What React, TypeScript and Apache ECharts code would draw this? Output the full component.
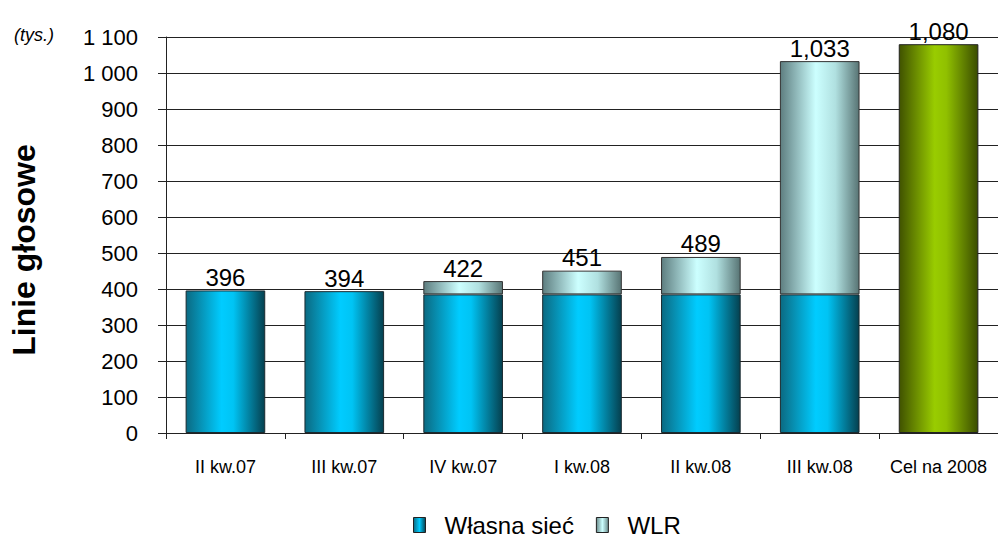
import React, { useEffect, useRef } from "react";
import * as echarts from "echarts";

const categories = ["II kw.07", "III kw.07", "IV kw.07", "I kw.08", "II kw.08", "III kw.08", "Cel na 2008"];
const ownNetwork: (number | string)[] = [396, 394, 385, 385, 385, 385, "-"];
const wlr: (number | string)[] = ["-", "-", 37, 66, 104, 648, "-"];
const target: (number | string)[] = ["-", "-", "-", "-", "-", "-", 1080];
const totals = [396, 394, 422, 451, 489, 1033, 1080];
const yTicks = { min: 0, max: 1100, interval: 100 };

const FONT = "Liberation Sans, Arial, sans-serif";

const grad = (stops: [number, string][]) =>
  new echarts.graphic.LinearGradient(0, 0, 1, 0, stops.map(([offset, color]) => ({ offset, color })));

export default function App() {
  const ref = useRef<HTMLDivElement>(null);
  useEffect(() => {
    document.body.style.margin = "0";
    const chart = echarts.init(ref.current!, null, { renderer: "svg" });
    const fmtTotal = (p: any) => totals[p.dataIndex].toLocaleString("en-US");
    const label = { show: true, position: "top", distance: 1, color: "#000", fontSize: 24, fontFamily: FONT, formatter: fmtTotal };
    chart.setOption({
      animation: false,
      backgroundColor: "#fff",
      grid: { left: 166, right: 0, top: 37, bottom: 108, containLabel: false },
      legend: {
        top: 513,
        left: 413,
        padding: 0,
        itemWidth: 12,
        itemHeight: 15,
        itemGap: 22,
        icon: "rect",
        textStyle: { fontSize: 24, fontFamily: FONT, color: "#000", padding: [0, 0, 0, 14] },
        data: [
          { name: "Własna sieć", itemStyle: { color: grad([[0, "#0b6a82"], [0.5, "#00ccff"], [1, "#05404f"]]), borderColor: "#222", borderWidth: 1 } },
          { name: "WLR", itemStyle: { color: grad([[0, "#6a8a8a"], [0.5, "#ccffff"], [1, "#6a8a8a"]]), borderColor: "#222", borderWidth: 1 } },
        ],
      },
      xAxis: {
        type: "category",
        data: categories,
        axisLine: { lineStyle: { color: "#222", width: 1 } },
        axisTick: { show: true, length: 6, lineStyle: { color: "#222" } },
        axisLabel: { interval: 0, margin: 25, fontSize: 18, fontFamily: FONT, color: "#000" },
      },
      yAxis: {
        type: "value",
        min: yTicks.min,
        max: yTicks.max,
        interval: yTicks.interval,
        axisLine: { show: true, lineStyle: { color: "#222", width: 1 } },
        axisTick: { show: true, length: 8, lineStyle: { color: "#222" } },
        splitLine: { lineStyle: { color: "#222", width: 1 } },
        axisLabel: {
          margin: 28,
          fontSize: 22,
          fontFamily: FONT,
          color: "#000",
          formatter: (v: number) => String(v).replace(/\B(?=(\d{3})+(?!\d))/g, " "),
        },
      },
      series: [
        {
          name: "Własna sieć",
          type: "bar",
          stack: "a",
          barCategoryGap: "33%",
          data: ownNetwork.map((v, i) => (i < 2 ? { value: v, label } : v)),
          itemStyle: { color: grad([[0, "#0b6a82"], [0.45, "#00ccff"], [0.6, "#00c4f4"], [1, "#05404f"]]), borderColor: "#1a2a30", borderWidth: 1 },
        },
        {
          name: "WLR",
          type: "bar",
          stack: "a",
          data: wlr,
          label,
          itemStyle: { color: grad([[0, "#5e7e80"], [0.45, "#ccffff"], [0.7, "#b0e0e0"], [1, "#587474"]]), borderColor: "#333", borderWidth: 1 },
        },
        {
          name: "Cel",
          type: "bar",
          stack: "a",
          data: target,
          label,
          itemStyle: { color: grad([[0, "#405200"], [0.45, "#99cc00"], [0.6, "#90c000"], [1, "#3a4c00"]]), borderColor: "#222", borderWidth: 1 },
        },
      ],
      graphic: [
        {
          type: "text",
          x: 14,
          y: 35,
          style: { text: "(tys.)", fontStyle: "italic", fontSize: 18, fontFamily: FONT, fill: "#000", textVerticalAlign: "middle" },
        },
        {
          type: "text",
          x: 24,
          y: 250,
          rotation: Math.PI / 2,
          style: { text: "Linie głosowe", fontWeight: "bold", fontSize: 32, fontFamily: FONT, fill: "#000", textAlign: "center", textVerticalAlign: "middle" },
        },
      ],
    });
    return () => chart.dispose();
  }, []);
  return <div ref={ref} style={{ width: 998, height: 541, position: "fixed", left: 0, top: 0 }} />;
}
